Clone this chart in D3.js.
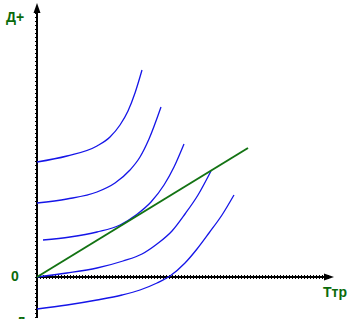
<!DOCTYPE html>
<html><head><meta charset="utf-8">
<script src="https://cdn.jsdelivr.net/npm/d3@7"></script>
<style>html,body{margin:0;padding:0;background:#fff;}svg{display:block;}</style>
</head><body>
<script>
// Data (T on x, D on y, arbitrary units)
const curve1 = [[0,115],[30,121],[60,131],[73,140],[83,152],[91,166],[98,184],[105,207]];
const curve2 = [[0,74],[30,78],[60,85],[78,94],[93,107],[103,120],[112,138],[124,170]];
const curve3 = [[6,37],[33,40],[60,45],[83,52],[99,62],[114,75],[127,92],[137,110],[147,133]];
const curve4 = [[0,0],[30,4],[60,9],[86,16],[105,23],[120,33],[135,46],[148,63],[161,82],[174,106]];
const curve5 = [[0,-32],[30,-28],[60,-23],[85,-18],[103,-13],[120,-6],[133,1],[148,14],[160,28],[172,44],[185,62],[197,82]];
const curves = [curve1, curve2, curve3, curve4, curve5];
const greenLine = [[0,0],[211,129]];
const labels = {yPos: "Д+", yNeg: "Д-", origin: "0", x: "Ттр"};

const W = 360, H = 330;
const x = d3.scaleLinear().domain([0, 297]).range([37, 334]);
const y = d3.scaleLinear().domain([-41, 274]).range([318, 3]);

const svg = d3.select("body").append("svg").attr("width", W).attr("height", H);
svg.append("clipPath").attr("id","clip").append("rect").attr("x",0).attr("y",0).attr("width",W).attr("height",319);
const g = svg.append("g").attr("clip-path","url(#clip)");

// axes
const xAxis = d3.axisBottom(x).tickValues(d3.range(0, 292, 3)).tickFormat("").tickSizeInner(2).tickSizeOuter(0);
const gx = g.append("g").attr("transform", `translate(0,${y(0)})`).call(xAxis);
gx.select(".domain").attr("stroke","#000").attr("stroke-width",2).attr("d", `M${x(0)},0H${x(292)}`);
gx.selectAll(".tick line").attr("y1",-2).attr("y2",2).attr("stroke","#000");

const yAxis = d3.axisLeft(y).tickValues(d3.range(-40, 268, 4)).tickFormat("").tickSizeInner(2).tickSizeOuter(0);
const gy = g.append("g").attr("transform", `translate(${x(0)},0)`).call(yAxis);
gy.select(".domain").attr("stroke","#000").attr("stroke-width",2).attr("d", `M0,${y(-41)}V${y(268)}`);
gy.selectAll(".tick line").attr("stroke","#000");

// arrows
g.append("path").attr("d", `M${x(0)},${y(274)}L${x(0)-3.5},${y(264)}L${x(0)+3.5},${y(264)}Z`).attr("fill","#000");
g.append("path").attr("d", `M${x(297)},${y(0)}L${x(287)},${y(0)-3.5}L${x(287)},${y(0)+3.5}Z`).attr("fill","#000");

// curves
const line = d3.line().x(d=>x(d[0])).y(d=>y(d[1])).curve(d3.curveMonotoneX);
g.selectAll(".c").data(curves).enter().append("path")
  .attr("d", line).attr("fill","none").attr("stroke","#1515e8").attr("stroke-width",1.3);

g.append("path").attr("d", d3.line().x(d=>x(d[0])).y(d=>y(d[1]))(greenLine))
  .attr("fill","none").attr("stroke","#137313").attr("stroke-width",2);

// labels
const lab = (t, px, py, anchor) => g.append("text").text(t).attr("x",px).attr("y",py)
  .attr("text-anchor",anchor).attr("fill","#0b6b0b")
  .attr("font-family","Liberation Sans, Arial, sans-serif").attr("font-weight","bold").attr("font-size",14);
lab(labels.yPos, 6, 22, "start");
lab(labels.origin, 15, 281, "middle");
lab(labels.x, 323, 297, "start");
lab(labels.yNeg, 16, 327, "start");
</script>
</body></html>
